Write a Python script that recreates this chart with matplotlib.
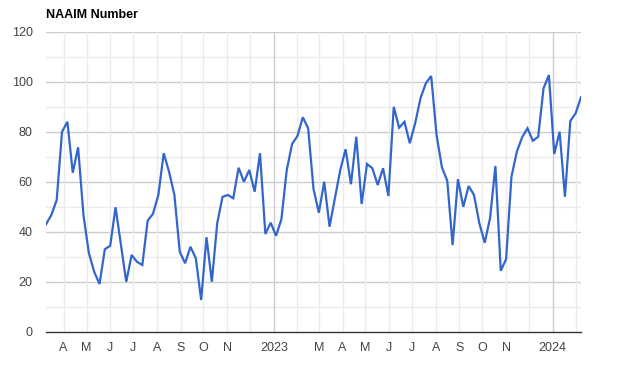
import matplotlib
matplotlib.use("Agg")
import matplotlib.pyplot as plt
import matplotlib.dates as mdates
import pandas as pd
import numpy as np

plt.rcParams['font.family'] = ['Liberation Sans', 'DejaVu Sans']

title = "NAAIM Number"
start_date = "2022-03-09"
values = [
    43.1, 46.8, 52.8, 80.1, 84.1, 63.7, 73.9, 46.8, 31.7, 24.1,
    19.2, 33.1, 34.5, 49.9, 35.0, 20.1, 30.8, 28.1, 26.8, 44.5,
    47.3, 54.8, 71.5, 64.1, 54.8, 32.1, 27.5, 34.1, 29.5, 12.8,
    37.9, 20.1, 43.5, 54.1, 54.8, 53.5, 65.7, 60.1, 64.8, 56.1,
    71.5, 39.2, 43.7, 38.5, 45.1, 64.8, 75.2, 78.4, 85.9, 81.5,
    57.2, 47.7, 60.1, 42.1, 53.5, 64.8, 73.1, 59.1, 78.1, 51.2,
    67.2, 65.5, 58.8, 65.5, 54.4, 90.1, 81.7, 84.1, 75.5, 83.5,
    93.5, 99.5, 102.4, 78.8, 65.9, 60.5, 34.8, 61.1, 50.1, 58.4,
    54.8, 43.5, 35.7, 45.5, 66.4, 24.5, 29.1, 62.1, 72.1, 77.9,
    81.5, 76.5, 78.1, 97.5, 102.8, 71.2, 80.1, 54.1, 84.4, 87.5,
    93.9,
]
dates = pd.date_range(start=start_date, periods=len(values), freq="7D")

month_ticks = pd.date_range("2022-04-01", "2024-02-01", freq="MS")
month_labels = ["A", "M", "J", "J", "A", "S", "O", "N", "", "2023", "",
                "M", "A", "M", "J", "J", "A", "S", "O", "N", "", "2024", ""]
y_ticks = [0, 20, 40, 60, 80, 100, 120]

W, H = 620, 377
fig = plt.figure(figsize=(W / 100, H / 100), dpi=100)
ax = fig.add_axes([46 / W, (H - 332) / H, (581 - 46) / W, 300 / H])

ax.set_ylim(0, 120)
ax.set_xlim(pd.Timestamp("2022-03-09"), pd.Timestamp("2024-02-07"))

# horizontal gridlines
for v in range(10, 121, 10):
    col = "#cccccc" if v % 20 == 0 else "#ebebeb"
    ax.axhline(v, color=col, lw=1, zorder=1)
# vertical gridlines
for d, lab in zip(month_ticks, month_labels):
    col = "#cccccc" if d.month == 1 else "#ebebeb"
    ax.axvline(d, color=col, lw=1, zorder=1)

ax.plot(dates, values, color="#3366cc", lw=1.6, zorder=3, solid_joinstyle="miter")

ax.set_yticks(y_ticks)
ax.set_yticklabels([str(v) for v in y_ticks])
ax.set_xticks(month_ticks)
ax.set_xticklabels(month_labels)
ax.tick_params(axis="both", length=0, labelsize=9, labelcolor="#444444")
ax.tick_params(axis="y", pad=9.5)
ax.tick_params(axis="x", pad=7.5)

for s in ["top", "right", "left"]:
    ax.spines[s].set_visible(False)
ax.spines["bottom"].set_color("#333333")
ax.spines["bottom"].set_linewidth(1)
ax.spines["bottom"].set_zorder(4)

fig.text(46 / W, 1 - 15.5 / H, title, fontsize=9, fontweight="bold",
         color="#000000", va="center", ha="left")

fig.savefig("out.png", dpi=100)
